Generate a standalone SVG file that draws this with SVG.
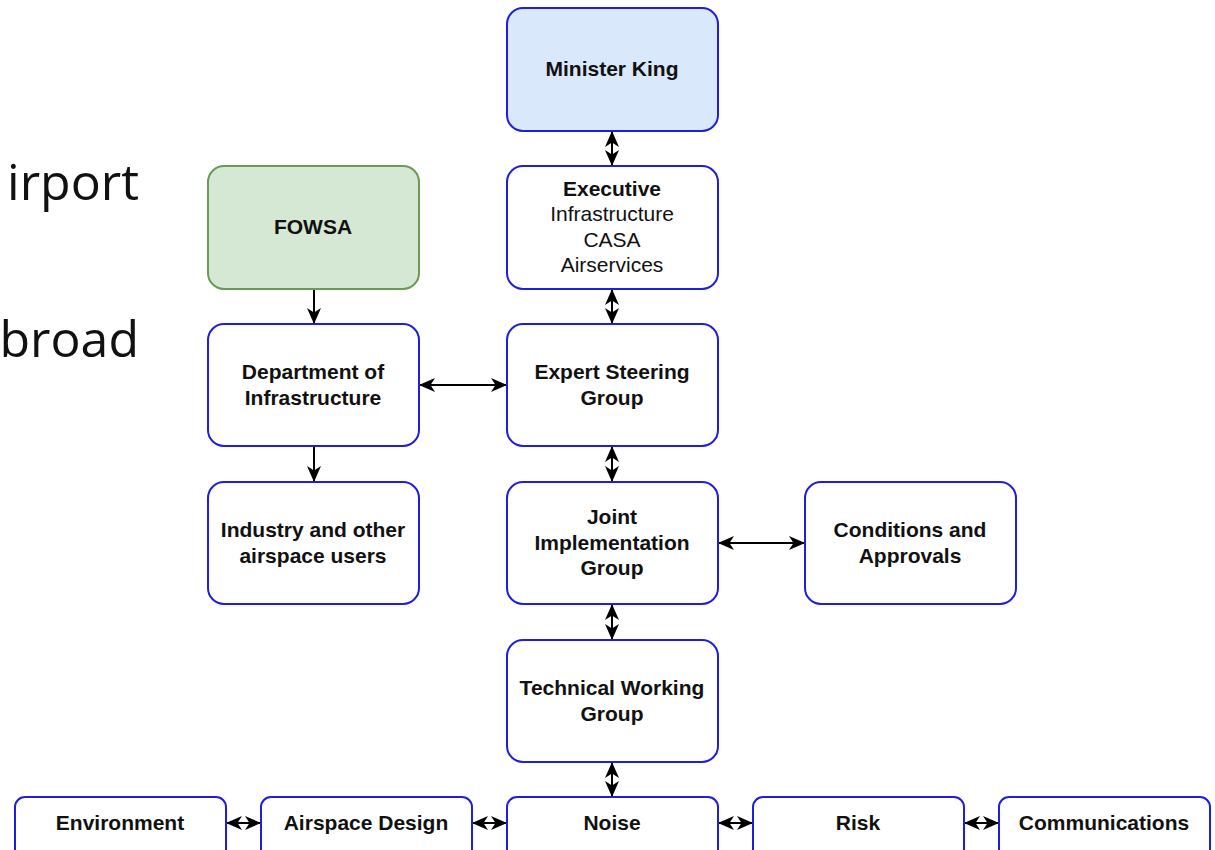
<svg xmlns="http://www.w3.org/2000/svg" width="1215" height="850" viewBox="0 0 1215 850">
<defs>
<style>
.box{fill:#ffffff;stroke:#1e1edc;stroke-width:2}
.blue{fill:#dae8fc}
.green{fill:#d5e8d4;stroke:#6a9a55}
.t{font-family:"Liberation Sans",Arial,sans-serif;font-size:21px;fill:#111;text-anchor:middle}
.b{font-weight:bold}
.big{font-family:"Open Sans","Noto Sans",sans-serif;font-size:50px;fill:#111;text-anchor:end}
.c{stroke:#000;stroke-width:2;fill:none;marker-end:url(#ah);marker-start:url(#ah)}
.c1{stroke:#000;stroke-width:2;fill:none;marker-end:url(#ah)}
</style>
<marker id="ah" viewBox="0 0 16 14" refX="16" refY="7" markerWidth="16" markerHeight="14" markerUnits="userSpaceOnUse" orient="auto-start-reverse">
<path d="M0,0 L16,7 L0,14 L4.5,7 Z" fill="#000"/>
</marker>
</defs>
<rect width="1215" height="850" fill="#ffffff"/>
<text class="big" x="139" y="200">irport</text>
<text class="big" x="139" y="357">broad</text>

<g id="connectors">
<line class="c" x1="612" y1="131" x2="612" y2="166"/>
<line class="c" x1="612" y1="289" x2="612" y2="324"/>
<line class="c" x1="612" y1="446" x2="612" y2="482"/>
<line class="c" x1="612" y1="604" x2="612" y2="640"/>
<line class="c" x1="612" y1="762" x2="612" y2="797"/>
<line class="c1" x1="314" y1="289" x2="314" y2="324"/>
<line class="c1" x1="314" y1="446" x2="314" y2="482"/>
<line class="c" x1="419" y1="385" x2="507" y2="385"/>
<line class="c" x1="718" y1="543" x2="805" y2="543"/>
<line class="c" x1="226" y1="823" x2="261" y2="823"/>
<line class="c" x1="472" y1="823" x2="507" y2="823"/>
<line class="c" x1="718" y1="823" x2="753" y2="823"/>
<line class="c" x1="964" y1="823" x2="999" y2="823"/>
</g>

<g id="minister"><rect class="box blue" x="507" y="8" width="211" height="123" rx="16"/><text class="t b" x="612" y="76">Minister King</text></g>
<g id="executive"><rect class="box" x="507" y="166" width="211" height="123" rx="16"/>
<text class="t b" x="612" y="196">Executive</text>
<text class="t" x="612" y="221">Infrastructure</text>
<text class="t" x="612" y="247">CASA</text>
<text class="t" x="612" y="272">Airservices</text></g>
<g id="fowsa"><rect class="box green" x="208" y="166" width="211" height="123" rx="16"/><text class="t b" x="313" y="234">FOWSA</text></g>
<g id="dept"><rect class="box" x="208" y="324" width="211" height="122" rx="16"/>
<text class="t b" x="313" y="379">Department of</text>
<text class="t b" x="313" y="405">Infrastructure</text></g>
<g id="expert"><rect class="box" x="507" y="324" width="211" height="122" rx="16"/>
<text class="t b" x="612" y="379">Expert Steering</text>
<text class="t b" x="612" y="405">Group</text></g>
<g id="industry"><rect class="box" x="208" y="482" width="211" height="122" rx="16"/>
<text class="t b" x="313" y="537">Industry and other</text>
<text class="t b" x="313" y="563">airspace users</text></g>
<g id="joint"><rect class="box" x="507" y="482" width="211" height="122" rx="16"/>
<text class="t b" x="612" y="524">Joint</text>
<text class="t b" x="612" y="550">Implementation</text>
<text class="t b" x="612" y="575">Group</text></g>
<g id="conditions"><rect class="box" x="805" y="482" width="211" height="122" rx="16"/>
<text class="t b" x="910" y="537">Conditions and</text>
<text class="t b" x="910" y="563">Approvals</text></g>
<g id="technical"><rect class="box" x="507" y="640" width="211" height="122" rx="16"/>
<text class="t b" x="612" y="695">Technical Working</text>
<text class="t b" x="612" y="721">Group</text></g>
<g id="environment"><rect class="box" x="15" y="797" width="211" height="70" rx="10"/><text class="t b" x="120" y="830">Environment</text></g>
<g id="airspace"><rect class="box" x="261" y="797" width="211" height="70" rx="10"/><text class="t b" x="366" y="830">Airspace Design</text></g>
<g id="noise"><rect class="box" x="507" y="797" width="211" height="70" rx="10"/><text class="t b" x="612" y="830">Noise</text></g>
<g id="risk"><rect class="box" x="753" y="797" width="211" height="70" rx="10"/><text class="t b" x="858" y="830">Risk</text></g>
<g id="communications"><rect class="box" x="999" y="797" width="211" height="70" rx="10"/><text class="t b" x="1104" y="830">Communications</text></g>
</svg>
